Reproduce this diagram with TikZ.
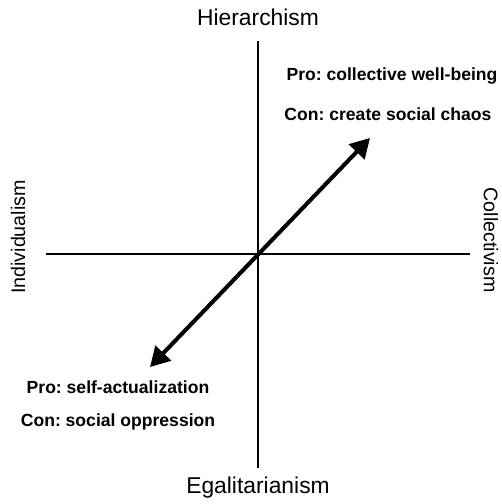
\documentclass[tikz,border=0pt]{standalone}
\usepackage{fontspec}
\setmainfont{Liberation Sans}
\usetikzlibrary{arrows.meta}
\frenchspacing
\tikzset{
 axislabel/.style={font=\fontsize{13}{15}\selectfont},
 sidelabel/.style={font=\fontsize{11.2}{13}\selectfont},
 prolabel/.style={font=\fontsize{10}{12}\selectfont\bfseries}
}

\begin{document}
\begin{tikzpicture}
 \useasboundingbox (-5.16,-5.0) rectangle (4.86,5.08);
 \coordinate (left) at (-4.23,0);
 \coordinate (right) at (4.23,0);
 \coordinate (top) at (0,4.25);
 \coordinate (bottom) at (0,-4.27);
 \coordinate (sw) at (-2.16,-2.26);
 \coordinate (ne) at (2.24,2.32);
 \draw [line width=1.1pt] (left) -- (right);
 \draw [line width=1.1pt] (top) -- (bottom);
 \draw [line width=2.3pt, {Triangle[length=11pt,width=12pt]}-{Triangle[length=11pt,width=12pt]}] (sw) -- (ne);
 \node [axislabel] (hier) at (0,4.74) {Hierarchism};
 \node [axislabel] (egal) at (0,-4.68) {Egalitarianism};
 \node [sidelabel, rotate=90] (indiv) at (-4.8,0.34) {Individualism};
 \node [sidelabel, rotate=-90] (coll) at (4.66,0.28) {Collectivism};
 \node [prolabel] (proright) at (2.68,3.56) {Pro: collective well-being};
 \node [prolabel] (conright) at (2.6,2.8) {Con: create social chaos};
 \node [prolabel] (proleft) at (-2.8,-2.66) {Pro: self-actualization};
 \node [prolabel] (conleft) at (-2.8,-3.36) {Con: social oppression};
\end{tikzpicture}
\end{document}
